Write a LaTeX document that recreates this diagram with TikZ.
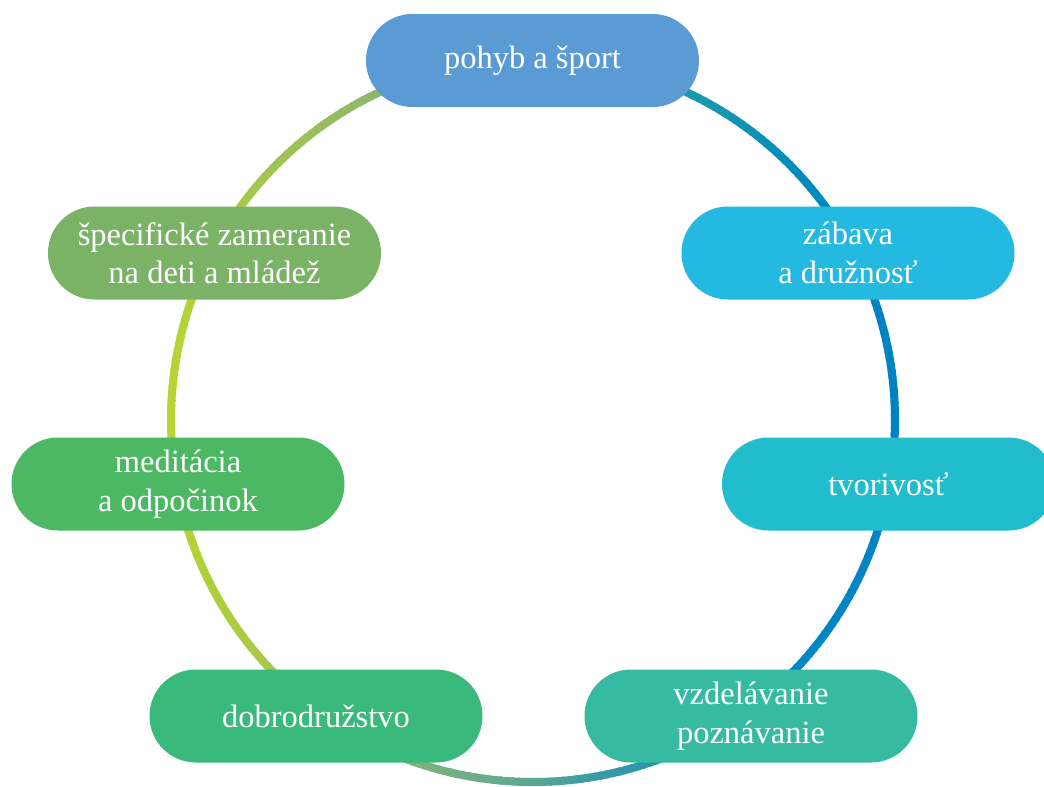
\documentclass[tikz,border=0pt]{standalone}
\usepackage{fontspec}
\setmainfont{Liberation Serif}

% ring colours, going clockwise from the top
\definecolor{r0}{HTML}{1A9CAC}
\definecolor{r1}{HTML}{1A9AAC}
\definecolor{r2}{HTML}{0088C0}
\definecolor{r3}{HTML}{0080C4}
\definecolor{r4}{HTML}{0088C6}
\definecolor{r5}{HTML}{3C9AA6}
\definecolor{r6}{HTML}{5AA894}
\definecolor{r7}{HTML}{78B080}
\definecolor{r8}{HTML}{88B472}
\definecolor{r9}{HTML}{A8C84A}
\definecolor{r10}{HTML}{B4D236}
\definecolor{r11}{HTML}{B8D432}
\definecolor{r12}{HTML}{B4D238}
\definecolor{r13}{HTML}{A8CA48}
\definecolor{r14}{HTML}{98BE5C}
\definecolor{r15}{HTML}{88B870}
\definecolor{r16}{HTML}{85B872}

% box fills
\definecolor{cSport}{HTML}{5B9BD5}
\definecolor{cZabava}{HTML}{23B9E0}
\definecolor{cTvor}{HTML}{21BDCC}
\definecolor{cVzdel}{HTML}{37BAA2}
\definecolor{cDobro}{HTML}{3AB97C}
\definecolor{cMedit}{HTML}{4DB864}
\definecolor{cSpec}{HTML}{7AB266}

\begin{document}
\begin{tikzpicture}[x=1pt,y=-1pt,
  pill/.style={fill=#1, rounded corners=46.4pt, minimum width=333pt,
    minimum height=93pt, inner sep=0pt, text=white, align=center,
    font=\fontsize{32.5}{38.5}\selectfont},
  ring/.style={line width=8pt}]
\useasboundingbox (0,0) rectangle (1044,787);

\coordinate (c) at (533,420);

% gradient ring, drawn as short overlapping arcs
\foreach \a/\b/\ca/\cb in {-90/-64/r0/r1, -64/-40/r1/r2, -40/0/r2/r3, 0/45/r3/r4,
    45/80/r4/r5, 80/90/r5/r6, 90/105/r6/r7, 105/115/r7/r8, 115/135/r8/r9,
    135/160/r9/r10, 160/180/r10/r11, 180/200/r11/r12, 200/215/r12/r13,
    215/235/r13/r14, 235/245/r14/r15, 245/270/r15/r16} {
  \pgfmathtruncatemacro\n{\b-\a}
  \foreach \i in {1,...,\n} {
    \pgfmathsetmacro\t{\a+\i-1}
    \pgfmathtruncatemacro\p{100*(\i-0.5)/\n}
    \draw[ring, color=\cb!\p!\ca] (c) ++(\t:362) arc[start angle=\t, delta angle=1.4, radius=362];
  }
}

% topic boxes
\node[pill=cSport] (sport) at (532.5,60.5) {pohyb a šport};
\node[pill=cZabava] (zabava) at (848,253) {zábava\\a družnosť};
\node[pill=cTvor] (tvor) at (888.5,484) {tvorivosť};
\node[pill=cVzdel] (vzdel) at (751,716) {vzdelávanie\\poznávanie};
\node[pill=cDobro] (dobro) at (316,716) {dobrodružstvo};
\node[pill=cMedit] (medit) at (178,484) {meditácia\\a odpočinok};
\node[pill=cSpec] (spec) at (214.5,253) {špecifické zameranie\\na deti a mládež};
\end{tikzpicture}
\end{document}
